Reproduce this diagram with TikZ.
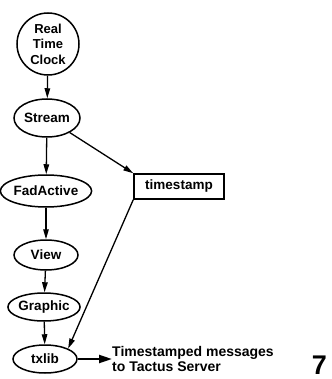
\documentclass[tikz,border=0pt]{standalone}
\usepackage{fontspec}
\setmainfont{Liberation Sans}
\usetikzlibrary{arrows.meta,shapes.geometric}
\begin{document}
\begin{tikzpicture}[x=1pt,y=-1pt,
  lbl/.style={font=\bfseries\fontsize{13.5}{16}\selectfont},
  proc/.style={draw,line width=1.5pt,ellipse,inner sep=0pt,lbl},
  arr/.style={line width=1.3pt,-{Triangle[length=10pt,width=5.5pt]}}]
\useasboundingbox (0,0) rectangle (331,379);
\node[proc,circle,minimum size=62pt,align=center,font=\bfseries\fontsize{13}{15.5}\selectfont] (clock) at (48,44) {Real\\Time\\Clock};
\node[proc,minimum width=66pt,minimum height=38pt] (stream) at (47,118) {Stream};
\node[proc,minimum width=80pt,minimum height=32pt] (fad) at (46,191) {FadActive};
\node[proc,minimum width=64pt,minimum height=30pt] (view) at (46,255) {View};
\node[proc,minimum width=66pt,minimum height=28pt] (graphic) at (44,307) {Graphic};
\node[proc,minimum width=64pt,minimum height=28pt] (txlib) at (45,359) {txlib};
\node[draw,line width=1.5pt,minimum width=90pt,minimum height=25pt,inner sep=0pt,lbl] (ts) at (179,186.5) {timestamp};
\node[anchor=west,align=left,inner sep=0pt,font=\bfseries\fontsize{14}{15}\selectfont] (msg) at (112,359) {Timestamped messages\\to Tactus Server};
\node[font=\bfseries\fontsize{27}{27}\selectfont,inner sep=0pt,anchor=east] (seven) at (327,365) {7};
\draw[arr] (clock) -- (stream);
\draw[arr] (stream) -- (fad);
\draw[arr] (fad) -- (view);
\draw[arr] (view) -- (graphic);
\draw[arr] (graphic) -- (txlib);
\draw[arr] (stream) -- (ts.north west);
\draw[arr] (ts.south west) -- (txlib.north east);
\draw[line width=2.2pt,-{Triangle[length=13pt,width=8pt]}] (txlib) -- (msg.west);
\end{tikzpicture}
\end{document}
